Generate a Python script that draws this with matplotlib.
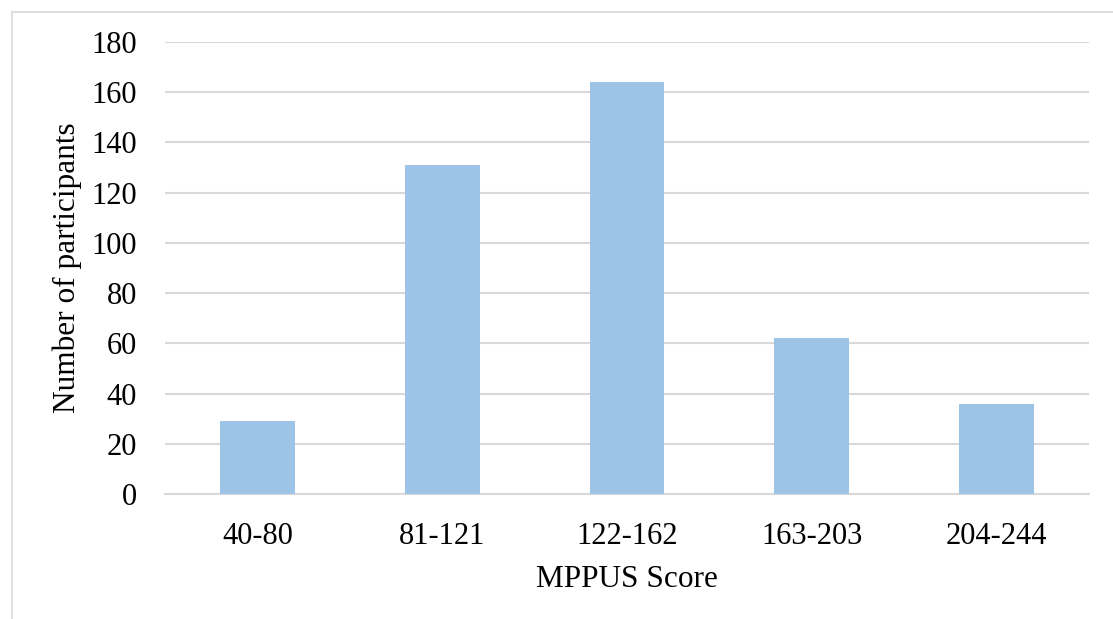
import matplotlib
matplotlib.use("Agg")
import matplotlib.pyplot as plt
from matplotlib.lines import Line2D

categories = ["40-80", "81-121", "122-162", "163-203", "204-244"]
values = [29, 131, 164, 62, 36]
yticks = [0, 20, 40, 60, 80, 100, 120, 140, 160, 180]

plt.rcParams['font.family'] = ['Liberation Serif', 'DejaVu Serif']

W, H = 1113, 619
fig = plt.figure(figsize=(W/100, H/100), dpi=100)
ax = fig.add_axes([165/W, (H-494)/H, (1089-165)/W, (494-42)/H])

x = list(range(len(categories)))
ax.bar(x, values, width=0.405, color="#9DC3E6", zorder=3)
ax.set_xlim(-0.5, len(categories)-0.5)
ax.set_ylim(0, 180)
ax.set_yticks(yticks)
ax.set_xticks(x)
ax.set_xticklabels(categories)
ax.grid(axis='y', color='#D9D9D9', linewidth=1.5, zorder=0)
for s in ['top', 'right', 'left']:
    ax.spines[s].set_visible(False)
ax.spines['bottom'].set_color('#D9D9D9')
ax.spines['bottom'].set_linewidth(1.5)
ax.tick_params(axis='both', length=0, labelsize=22)
ax.tick_params(axis='y', pad=20)
ax.tick_params(axis='x', pad=20)
ax.set_xlabel("MPPUS Score", fontsize=22.5, labelpad=10)
ax.set_ylabel("Number of participants", fontsize=22.5, labelpad=7)

# outer light border (left and top visible)
fig.add_artist(Line2D([11.5/W, 11.5/W], [0, (H-11.5)/H], transform=fig.transFigure, color='#D9D9D9', lw=1.2))
fig.add_artist(Line2D([11.5/W, 1], [(H-11.5)/H, (H-11.5)/H], transform=fig.transFigure, color='#D9D9D9', lw=1.2))

fig.savefig("out.png", dpi=100)
